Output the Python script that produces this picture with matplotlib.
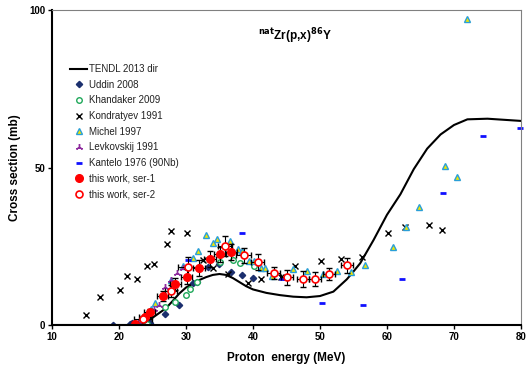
import matplotlib
matplotlib.use("Agg")
import matplotlib.pyplot as plt

plt.rcParams['font.family'] = ['Liberation Sans', 'DejaVu Sans']

# TENDL 2013 curve
tendlE = [10, 22, 23, 24, 25, 26, 27, 28, 29, 30, 31, 32, 33, 34, 35, 36, 37, 38, 39, 40,
          42, 44, 46, 48, 50, 52, 54, 55, 56, 58, 60, 62, 64, 66, 68, 70, 72, 75, 80]
tendlS = [0, 0, 0.1, 0.8, 2.3, 3.8, 5.3, 7.6, 10.0, 11.9, 13.1, 14.3, 15.2, 15.9, 16.2, 15.9, 14.9, 13.6, 12.3, 11.3,
          10.2, 9.5, 9.0, 8.8, 9.2, 10.6, 14.5, 17.0, 19.6, 27.0, 35.0, 41.5, 49.5, 56.0, 60.5, 63.5, 65.3, 65.5, 64.8]

uddinE = [19.1, 21.6, 21.9, 24.7, 26.9, 29.0, 31.0, 31.7, 33.3, 35.0, 36.7, 38.3, 40.0]
uddinS = [0.1, 0.3, 0.5, 0.6, 3.4, 6.3, 13.2, 13.6, 18.5, 19.3, 16.9, 15.9, 14.8]

khandE = [24.2, 26.9, 28.3, 30.0, 30.6, 31.7, 35.1, 37.0, 38.1, 40.2]
khandS = [0.3, 5.7, 7.3, 9.6, 11.5, 13.8, 20.1, 20.8, 19.8, 18.7]

kondE = [15.1, 17.2, 20.1, 21.2, 22.7, 24.2, 25.2, 27.2, 27.7, 30.1, 32.6, 34.1, 36.2, 39.2,
         41.2, 44.2, 46.3, 50.1, 53.1, 56.2, 60.2, 62.7, 66.2, 68.2]
kondS = [3.2, 8.8, 11.0, 15.7, 14.7, 18.7, 19.5, 25.7, 29.8, 29.3, 20.6, 18.0, 16.2, 13.4,
         14.7, 15.1, 18.7, 20.4, 21.0, 21.5, 29.3, 31.0, 31.7, 30.3]

michelE = [24.8, 25.4, 27.7, 29.6, 31.1, 31.8, 33.0, 34.0, 34.6, 36.5, 37.7, 38.4, 39.4, 40.1,
           41.2, 41.8, 42.9, 45.9, 48.1, 50.4, 52.5, 54.6, 56.7, 60.9, 62.9, 64.8, 68.6, 70.4, 71.9]
michelS = [5.0, 6.9, 14.3, 18.8, 21.2, 23.6, 28.5, 25.9, 27.4, 26.6, 24.0, 23.6, 20.4, 20.4,
           18.0, 18.0, 15.6, 17.9, 17.2, 16.1, 17.2, 16.9, 19.1, 24.9, 31.2, 37.4, 50.5, 46.9, 97.1]

levkE = [22.8, 23.5, 24.0, 25.2, 25.9, 26.8, 27.7, 28.7, 29.5]
levkS = [1.0, 2.0, 3.2, 5.0, 6.5, 12.1, 14.2, 16.6, 18.2]

kantE = [30.3, 38.4, 44.3, 50.3, 56.4, 62.3, 68.4, 74.4, 79.9]
kantS = [20.8, 29.1, 14.5, 6.9, 6.5, 14.7, 42.0, 60.0, 62.6]

ser1E = [22.4, 23.9, 24.6, 26.5, 28.4, 30.1, 31.9, 33.6, 35.1, 36.7]
ser1S = [0.4, 2.4, 4.0, 9.2, 13.0, 15.4, 18.2, 21.0, 22.4, 23.1]
ser1dE = [0.5, 0.9, 0.8, 0.8, 0.8, 0.8, 0.9, 0.9, 0.9, 0.9]
ser1dS = [0.3, 0.8, 1.0, 1.6, 2.0, 2.4, 2.5, 2.5, 2.4, 2.5]

ser2E = [23.6, 27.7, 30.3, 35.8, 38.6, 40.7, 43.1, 45.1, 47.4, 49.3, 51.4, 54.0]
ser2S = [1.8, 10.8, 18.5, 25.1, 22.2, 20.1, 16.5, 15.1, 14.6, 14.6, 16.2, 18.9]
ser2dE = [1.3, 0.9, 1.5, 1.0, 1.1, 1.0, 0.95, 0.9, 0.9, 0.9, 0.9, 0.9]
ser2dS = [1.0, 2.0, 3.0, 3.2, 2.4, 2.5, 1.9, 2.4, 2.4, 2.2, 2.0, 2.3]

fig = plt.figure(figsize=(5.32, 3.72), dpi=100)
ax = fig.add_axes([0.0977, 0.1263, 0.8816, 0.8467])

ax.plot(tendlE, tendlS, color='black', lw=1.5, label='TENDL 2013 dir')
ax.plot(uddinE, uddinS, 'D', ms=3.2, color='#1b2f6e', ls='none', label='Uddin 2008')
ax.plot(khandE, khandS, 'o', ms=4, mfc='white', mec='#1fa85a', mew=1.0, ls='none', label='Khandaker 2009')
ax.plot(kondE, kondS, 'x', ms=4, color='black', mew=1.0, ls='none', label='Kondratyev 1991')
ax.plot(michelE, michelS, '^', ms=5, mfc='#f2e600', mec='#2a9fd8', mew=1.0, ls='none', label='Michel 1997')
ax.plot(levkE, levkS, marker=(3, 2, 0), ms=5, color='#8e2a9e', mew=1.0, ls='none', label='Levkovskij 1991')
ax.plot(kantE, kantS, '_', ms=4, color='#1010ff', mew=2.0, ls='none', label='Kantelo 1976 (90Nb)', clip_on=False)

# this work: error bars first, markers on top
ax.errorbar(ser1E, ser1S, xerr=ser1dE, yerr=ser1dS, fmt='none', ecolor='black', elinewidth=0.8, capsize=2)
ax.errorbar(ser2E, ser2S, xerr=ser2dE, yerr=ser2dS, fmt='none', ecolor='black', elinewidth=0.8, capsize=2)
ax.plot(ser1E, ser1S, 'o', ms=5.5, color='#ff0000', ls='none', label='this work, ser-1')
ax.plot(ser2E, ser2S, 'o', ms=5, mfc='white', mec='#ff0000', mew=1.2, ls='none', label='this work, ser-2')

ax.set_xlim(10, 80)
ax.set_ylim(0, 100)
ax.set_xticks(range(10, 81, 10))
ax.set_yticks([0, 50, 100])
ax.tick_params(direction='out', length=3, width=1, labelsize=7, pad=2)
for lab in ax.get_xticklabels() + ax.get_yticklabels():
    lab.set_fontweight('bold')

ax.spines['left'].set_linewidth(1.5)
ax.spines['bottom'].set_linewidth(1.5)
ax.spines['top'].set_color('#808080')
ax.spines['right'].set_color('#808080')

ax.set_xlabel('Proton  energy (MeV)', fontsize=8.5, fontweight='bold', labelpad=7)
ax.set_ylabel('Cross section (mb)', fontsize=8.5, fontweight='bold', labelpad=6)

ax.text(0.518, 0.918, r'$^{\mathbf{nat}}$Zr(p,x)$^{\mathbf{86}}$Y', transform=ax.transAxes,
        ha='center', va='center', fontsize=8.5, fontweight='bold')

leg = ax.legend(loc='upper left', bbox_to_anchor=(0.038, 0.828), frameon=False, fontsize=7,
                borderpad=0, handlelength=1.8, handletextpad=0.2, labelspacing=0.58, borderaxespad=0)
for t in leg.get_texts():
    t.set_color('#222222')

plt.savefig('out.png', dpi=100)
